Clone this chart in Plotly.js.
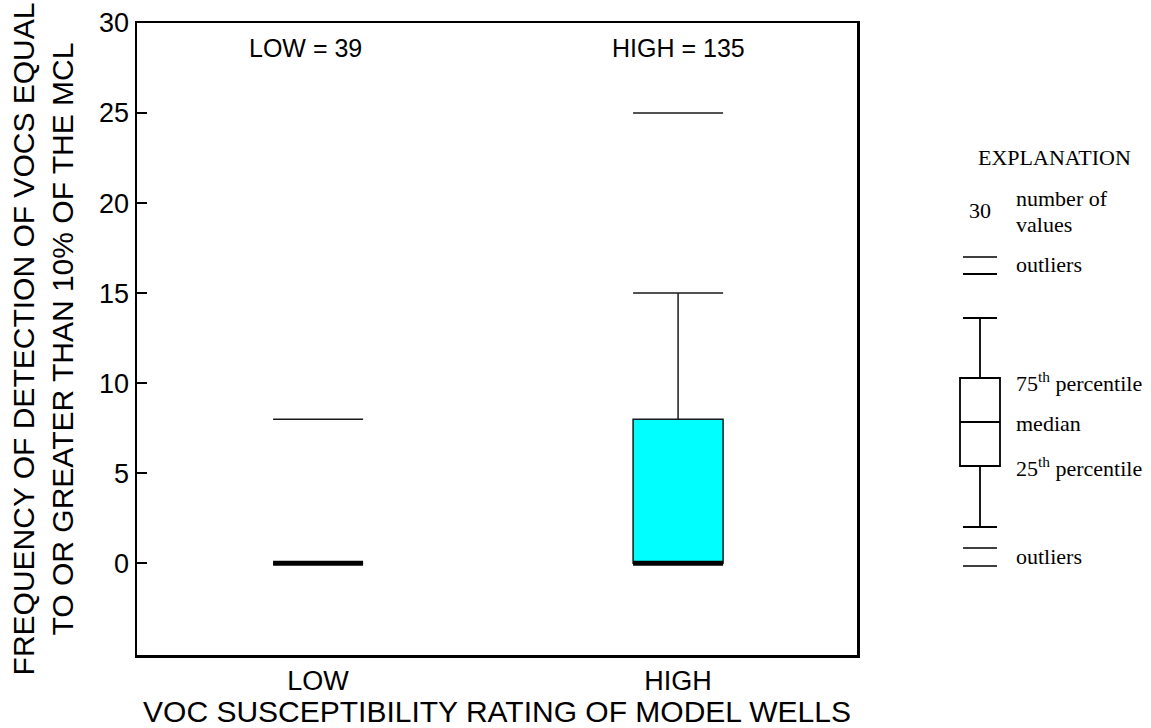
<!DOCTYPE html>
<html><head><meta charset="utf-8">
<script src="https://cdn.plot.ly/plotly-3.0.1.min.js"></script>
<style>html,body{margin:0;padding:0;background:#fff}</style>
</head><body>
<div id="chart" style="width:1151px;height:728px"></div>
<script>
// ---- data ----
const categories = ['LOW', 'HIGH'];
const counts = [39, 135];
const q1 = [0, 0];
const medians = [0, 0];
const q3 = [0, 8];
const lowerFence = [0, 0];
const upperFence = [0, 15];
const outliers = [[8], [25]];
const yTickVals = [0, 5, 10, 15, 20, 25, 30];
const legendNumber = '30';

// ---- styling ----
const SANS = 'Liberation Sans, Arial, sans-serif';
const SERIF = 'Liberation Serif, Times New Roman, serif';
const BOX_W = 0.25;
const L = 137, R = 857, T = 23, B = 655, W = 1151, H = 728;
const px = x => (x - L) / (R - L);
const py = y => (B - y) / (B - T);

const traces = [];
categories.forEach((c, i) => {
  traces.push({
    type: 'box', name: c, x: [i],
    q1: [q1[i]], median: [medians[i]], q3: [q3[i]],
    lowerfence: [lowerFence[i]], upperfence: [upperFence[i]],
    width: BOX_W, whiskerwidth: 1, boxpoints: false,
    fillcolor: '#00FFFF', line: {color: '#1a1a1a', width: 1.5},
    hoverinfo: 'skip', showlegend: false
  });
});
// thick median bars
const mx = [], my = [];
categories.forEach((c, i) => { mx.push(i - BOX_W / 2, i + BOX_W / 2, null); my.push(medians[i], medians[i], null); });
traces.push({type: 'scatter', mode: 'lines', x: mx, y: my, line: {color: '#000', width: 5}, hoverinfo: 'skip', showlegend: false});
// outlier bars
const ox = [], oy = [];
categories.forEach((c, i) => outliers[i].forEach(v => { ox.push(i - BOX_W / 2, i + BOX_W / 2, null); oy.push(v, v, null); }));
traces.push({type: 'scatter', mode: 'lines', x: ox, y: oy, line: {color: '#1a1a1a', width: 1.5}, hoverinfo: 'skip', showlegend: false});

const annotations = categories.map((c, i) => ({
  x: i, y: 28.6, xref: 'x', yref: 'y', text: c + ' = ' + counts[i], showarrow: false,
  xshift: i === 0 ? -13 : 0, font: {family: SANS, size: 25, color: '#000'}
}));

// ---- explanation panel ----
const lt = (x, y, text, opt = {}) => annotations.push(Object.assign({
  x: px(x), y: py(y), xref: 'paper', yref: 'paper', text, showarrow: false,
  xanchor: 'left', yanchor: 'middle', font: {family: SERIF, size: 22, color: '#000'}
}, opt));
lt(1054, 157, 'EXPLANATION', {xanchor: 'center'});
lt(980, 210, legendNumber, {xanchor: 'center'});
lt(1014, 198, 'number of');
lt(1014, 224, 'values');
lt(1014, 264, 'outliers');
lt(1014, 382, '75<sup>th</sup> percentile');
lt(1014, 423, 'median');
lt(1014, 467, '25<sup>th</sup> percentile');
lt(1014, 556, 'outliers');

const shapes = [];
const hl = (x0, x1, y, w) => shapes.push({type: 'line', xref: 'paper', yref: 'paper', x0: px(x0), x1: px(x1), y0: py(y), y1: py(y), line: {color: '#000', width: w}});
const vl = (x, y0, y1, w) => shapes.push({type: 'line', xref: 'paper', yref: 'paper', x0: px(x), x1: px(x), y0: py(y0), y1: py(y1), line: {color: '#000', width: w}});
hl(963, 997, 257, 1.5);
hl(963, 997, 274, 2.2);
hl(963, 997, 318, 1.8);
vl(980, 318, 378, 1.8);
shapes.push({type: 'rect', xref: 'paper', yref: 'paper', x0: px(960), x1: px(1000), y0: py(466), y1: py(378), line: {color: '#000', width: 1.8}, fillcolor: 'rgba(0,0,0,0)'});
hl(960, 1000, 422, 2.2);
vl(980, 466, 527, 1.8);
hl(963, 997, 527, 2.2);
hl(963, 997, 548, 1.5);
hl(963, 997, 566, 1.5);

const layout = {
  width: W, height: H,
  margin: {l: L, r: W - R, t: T, b: H - B, pad: 0},
  paper_bgcolor: '#fff', plot_bgcolor: '#fff',
  font: {family: SANS, color: '#000'},
  showlegend: false,
  xaxis: {
    range: [-0.503, 1.497], tickvals: categories.map((c, i) => i), ticktext: categories,
    ticks: '', showgrid: false, zeroline: false, showline: true, mirror: true,
    linecolor: '#000', linewidth: 2.5, tickfont: {family: SANS, size: 27, color: '#000'},
    title: {text: 'VOC SUSCEPTIBILITY RATING OF MODEL WELLS', font: {family: SANS, size: 30, color: '#000'}, standoff: 2},
    automargin: false, fixedrange: true
  },
  yaxis: {
    range: [-5.1, 30], tickvals: yTickVals, ticktext: yTickVals.map(String),
    ticks: 'inside', ticklen: 10, tickwidth: 1.5, tickcolor: '#000',
    showgrid: false, zeroline: false, showline: true, mirror: true,
    linecolor: '#000', linewidth: 2.5, tickfont: {family: SANS, size: 27, color: '#000'},
    title: {text: 'FREQUENCY OF DETECTION OF VOCS EQUAL<br>TO OR GREATER THAN 10% OF THE MCL', font: {family: SANS, size: 30, color: '#000'}, standoff: 17},
    automargin: false, fixedrange: true
  },
  annotations, shapes
};
Plotly.newPlot('chart', traces, layout, {displayModeBar: false, staticPlot: true});
</script>
</body></html>
